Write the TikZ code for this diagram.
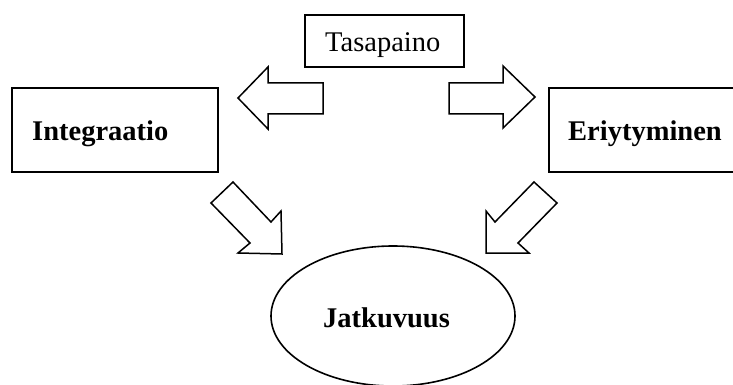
\documentclass[tikz,border=0pt]{standalone}
\usepackage{fontspec}
\setmainfont{Liberation Serif}
\usetikzlibrary{shapes.geometric}
\begin{document}
\begin{tikzpicture}[x=1pt,y=-1pt,
  boxst/.style={draw=black,line width=1.6pt,fill=white,inner sep=0pt},
  lbl/.style={anchor=base west,inner sep=0pt,font=\fontsize{28.5}{32}\selectfont},
  blockarrow/.style={draw=black,line width=1.5pt,fill=white,line join=miter}]
\useasboundingbox (0,0) rectangle (733,385);
\clip (0,0) rectangle (733,385);
% boxes
\node[boxst,minimum width=159pt,minimum height=52pt] (tas) at (384.5,41) {};
\node[boxst,minimum width=206pt,minimum height=84pt] (int) at (115,130) {};
\node[boxst,minimum width=220pt,minimum height=84pt] (eri) at (659,130) {};
\node[boxst,ellipse,minimum width=244pt,minimum height=140pt] (jat) at (393,316) {};
% labels
\node[lbl] (tastxt) at (325,52) {Tasapaino};
\node[lbl] (inttxt) at (32,140) {\bfseries Integraatio};
\node[lbl] (eritxt) at (568,140) {\bfseries Eriytyminen};
\node[lbl] (jattxt) at (323,327) {\bfseries Jatkuvuus};
% block arrows
\draw[blockarrow] (323,83) -- (268,83) -- (268,67) -- (238,98) -- (268,129) -- (268,114) -- (323,114) -- cycle;
\draw[blockarrow] (449,83) -- (503,83) -- (503,66) -- (535,97) -- (503,128) -- (503,114) -- (449,114) -- cycle;
\draw[blockarrow] (282,254) -- (281,211) -- (271,222) -- (233,182) -- (211,203) -- (250,243) -- (238,253) -- cycle;
\draw[blockarrow] (486,253) -- (486,211) -- (495,222) -- (534,182) -- (557,203) -- (518,243) -- (529,253) -- cycle;
\end{tikzpicture}
\end{document}
